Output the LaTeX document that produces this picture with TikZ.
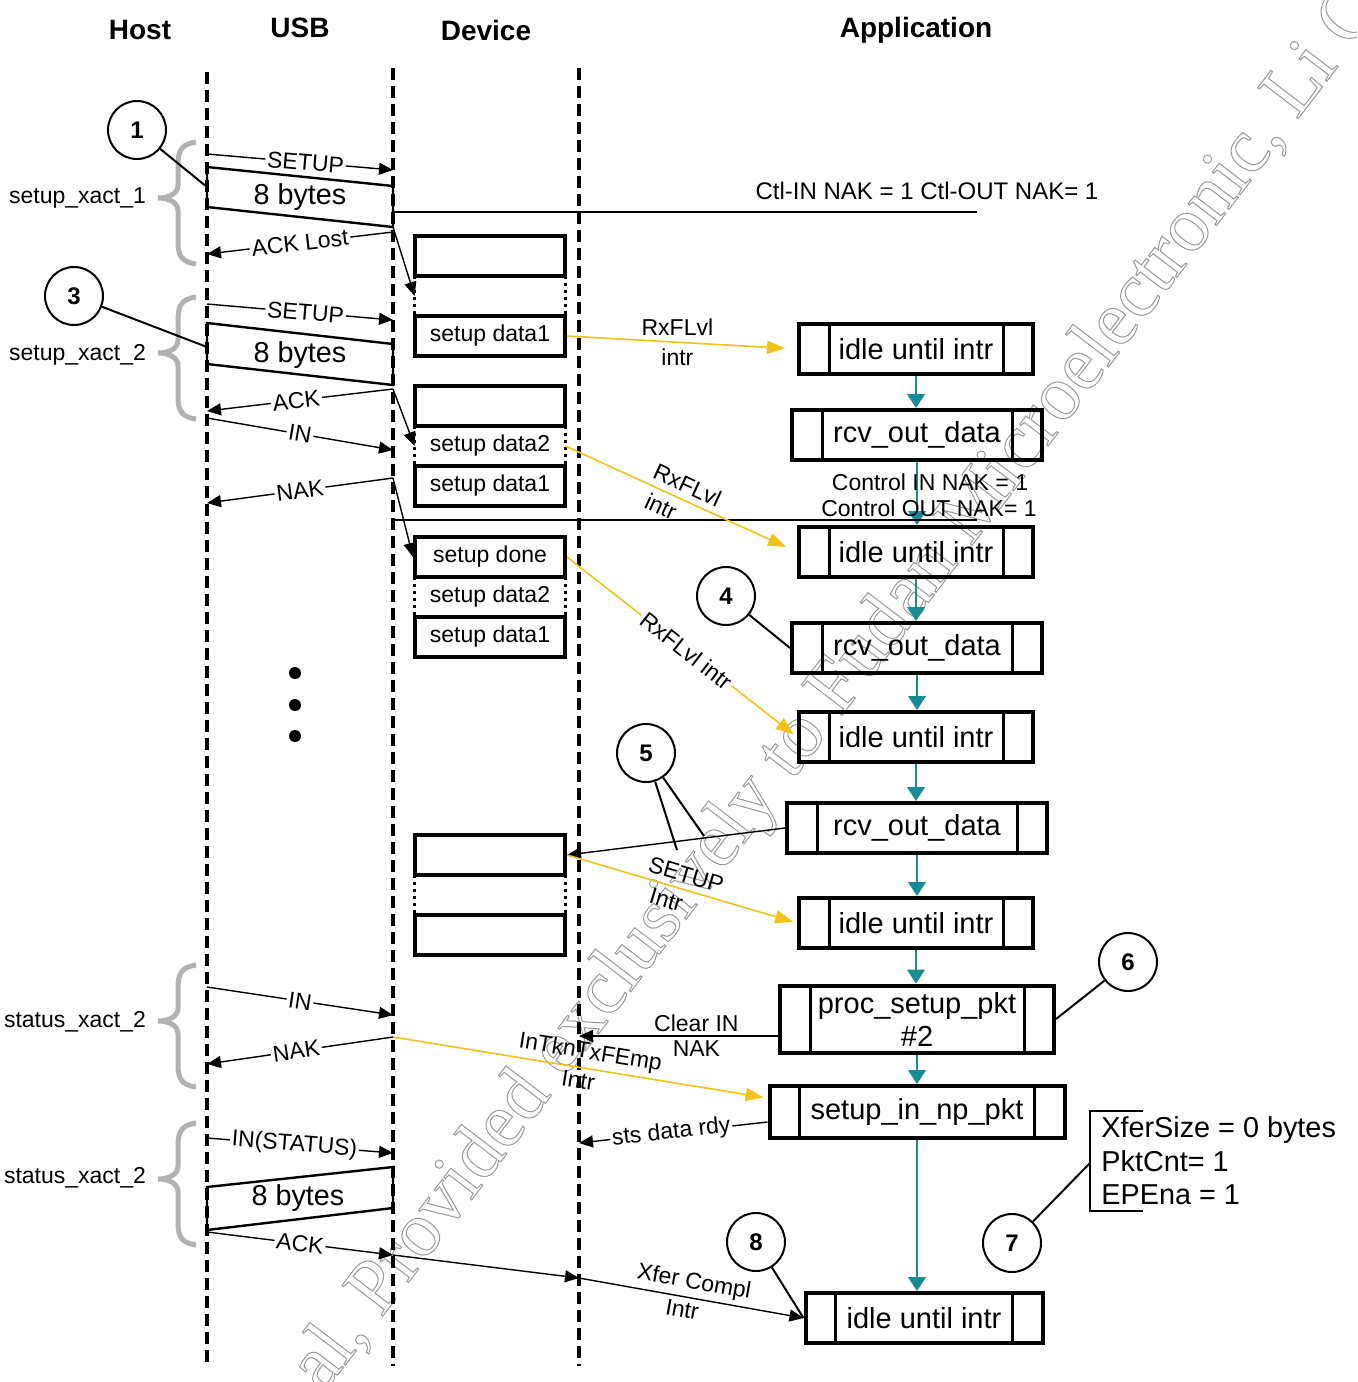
\documentclass[tikz,border=0pt]{standalone}
\usepackage{fontspec}
\setmainfont{Liberation Sans}
\newfontfamily\wmfont{Liberation Serif}
\usetikzlibrary{arrows.meta}
\definecolor{tealc}{RGB}{24,140,150}
\definecolor{goldc}{RGB}{242,194,24}
\definecolor{bracec}{RGB}{178,178,178}
\definecolor{wmc}{RGB}{150,150,150}
\newcommand\fsz[2]{\fontsize{#1}{#2}\selectfont}
\tikzset{
  lifeline/.style={line width=2pt, dash pattern=on 6pt off 3pt},
  msg/.style={line width=0.7pt, -{Triangle[length=7pt,width=6pt]}},
  thinline/.style={line width=0.7pt},
  lbl/.style={sloped, fill=white, inner sep=1pt, font=\fsz{11.5}{13}},
  slbl/.style={sloped, inner sep=1pt, font=\fsz{11.5}{13}},
  tlbl/.style={inner sep=1pt, font=\fsz{11.5}{13}},
  hdr/.style={font=\fsz{14}{16}\bfseries},
  fifobox/.style={draw, line width=2pt, minimum width=75pt, minimum height=20pt, inner sep=0pt, font=\fsz{11.5}{13}},
  fifoslot/.style={minimum width=75pt, minimum height=20pt, inner sep=0pt, font=\fsz{11.5}{13}},
  slotside/.style={line width=1.5pt, dotted},
  appbox/.style={draw, line width=2pt, minimum height=25pt, inner sep=0pt, align=center, font=\fsz{14.5}{16.5},
     path picture={\draw[line width=1.5pt]
        ([xshift=15pt]path picture bounding box.north west) -- ([xshift=15pt]path picture bounding box.south west)
        ([xshift=-15pt]path picture bounding box.north east) -- ([xshift=-15pt]path picture bounding box.south east);}},
  flow/.style={draw=tealc, line width=0.6pt, -{Triangle[length=7pt,width=9pt]}},
  yarr/.style={draw=goldc, line width=0.8pt, -{Triangle[length=9pt,width=6.5pt]}},
  callout/.style={circle, draw, line width=1pt, minimum size=29pt, inner sep=0pt, font=\fsz{12}{14}\bfseries},
  calline/.style={line width=1pt},
  pkt/.style={line width=1.2pt},
  pkttext/.style={font=\fsz{14.4}{16}},
  note/.style={font=\fsz{12}{14}},
  sidelbl/.style={font=\fsz{11.5}{13}, anchor=east},
  brc/.style={draw=bracec, line width=2.5pt},
  xbrace/.pic={\draw[brc] (38,0) .. controls (24,2) and (20,8) .. (20,23) -- (20,43) .. controls (20,51) and (12,56) .. (0,56) .. controls (12,56) and (20,61) .. (20,69) -- (20,100) .. controls (20,114) and (24,120) .. (38,122);},
  dotn/.style={circle, fill=black, minimum size=6pt, inner sep=0pt},
}
\begin{document}
\begin{tikzpicture}[x=0.5pt,y=-0.5pt]
\useasboundingbox (0,0) rectangle (1357,1382);
\fill[white] (0,0) rectangle (1357,1382);
% watermark (outlined text)
\begin{scope}
\clip (0,0) rectangle (1357,1382);
\node[font=\wmfont\fsz{39}{42}, text=wmc, rotate=52.6, inner sep=0pt] (wm) at (838,690) {\special{pdf:literal direct 1 Tr 0.5 w 0.6 G}al, Provided exclusively to Fudan Microelectronic, Li C\special{pdf:literal direct 0 Tr}};
\end{scope}
% headers
\node[hdr] (hhost) at (140,30) {Host};
\node[hdr] (husb) at (300,28) {USB};
\node[hdr] (hdev) at (486,30) {Device};
\node[hdr] (happ) at (916,30) {Application};
% lifelines
\coordinate (hT) at (207,72); \coordinate (hB) at (207,1362);
\coordinate (uT) at (393,68); \coordinate (uB) at (393,1366);
\coordinate (dT) at (579,68); \coordinate (dB) at (579,1366);
\draw[lifeline] (hT) -- (hB);
\draw[lifeline] (uT) -- (uB);
\draw[lifeline] (dT) -- (dB);
% braces and side labels
\pic at (158,142) {xbrace};
\pic at (158,297) {xbrace};
\pic at (158,965) {xbrace};
\pic at (158,1123) {xbrace};
\node[sidelbl] (lx1) at (153,198) {setup\_xact\_1};
\node[sidelbl] (lx2) at (153,355) {setup\_xact\_2};
\node[sidelbl] (lx3) at (153,1022) {status\_xact\_2};
\node[sidelbl] (lx4) at (153,1178) {status\_xact\_2};
% FIFOs
\node[fifobox] (a1) at (490,256) {};
\node[fifoslot] (a2) at (490,296) {};
\node[fifobox] (a3) at (490,336) {setup data1};
\node[fifobox] (b1) at (490,406) {};
\node[fifoslot] (b2) at (490,446) {setup data2};
\node[fifobox] (b3) at (490,486) {setup data1};
\node[fifobox] (c1) at (490,557) {setup done};
\node[fifoslot] (c2) at (490,597) {setup data2};
\node[fifobox] (c3) at (490,637) {setup data1};
\node[fifobox] (d1) at (490,855) {};
\node[fifoslot] (d2) at (490,895) {};
\node[fifobox] (d3) at (490,935) {};
\foreach \s in {a2,b2,c2,d2}{
  \draw[slotside] (\s.north west) -- (\s.south west) (\s.north east) -- (\s.south east);
}
% application boxes
\node[appbox, minimum width=117pt] (i1) at (916,349) {idle until intr};
\node[appbox, minimum width=125pt] (r1) at (917,435) {rcv\_out\_data};
\node[appbox, minimum width=117pt] (i2) at (916,552) {idle until intr};
\node[appbox, minimum width=125pt] (r2) at (917,648) {rcv\_out\_data};
\node[appbox, minimum width=117pt] (i3) at (916,737) {idle until intr};
\node[appbox, minimum width=130pt] (r3) at (917,828) {rcv\_out\_data};
\node[appbox, minimum width=117pt] (i4) at (916,923) {idle until intr};
\node[appbox, minimum width=137pt, minimum height=33.5pt] (pr) at (917,1019) {proc\_setup\_pkt\\\#2};
\node[appbox, minimum width=147.5pt, minimum height=26pt] (si) at (917,1112) {setup\_in\_np\_pkt};
\node[appbox, minimum width=118.5pt] (i5) at (924,1318) {idle until intr};
% teal flow
\draw[flow] (i1.south) -- (i1.south |- r1.north);
\draw[flow] (r1.south) -- (r1.south |- i2.north);
\draw[flow] (i2.south) -- (i2.south |- r2.north);
\draw[flow] (r2.south) -- (r2.south |- i3.north);
\draw[flow] (i3.south) -- (i3.south |- r3.north);
\draw[flow] (r3.south) -- (r3.south |- i4.north);
\draw[flow] (i4.south) -- (i4.south |- pr.north);
\draw[flow] (pr.south) -- (pr.south |- si.north);
\draw[flow] (si.south) -- (si.south |- i5.north);
% horizontal marker lines and notes
\coordinate (hl1a) at (393,212); \coordinate (hl1b) at (977,212);
\coordinate (hl2a) at (393,520); \coordinate (hl2b) at (977,520);
\draw[thinline] (hl1a) -- (hl1b);
\draw[thinline] (hl2a) -- (hl2b);
\node[note] (ctl) at (927,191) {Ctl-IN NAK = 1 Ctl-OUT NAK= 1};
\node[tlbl] (cn1) at (930,482) {Control IN NAK = 1};
\node[tlbl] (cn2) at (929,508) {Control OUT NAK= 1};
% packets
\draw[pkt] (207,167) -- (393,186) -- (393,227) -- (207,207) -- cycle;
\node[pkttext] (p1) at (300,197) {8 bytes};
\draw[pkt] (207,323) -- (393,344) -- (393,385) -- (207,364) -- cycle;
\node[pkttext] (p2) at (300,355) {8 bytes};
\draw[pkt] (207,1187) -- (393,1167) -- (393,1208) -- (207,1230) -- cycle;
\node[pkttext] (p3) at (298,1198) {8 bytes};
% host/usb messages
\coordinate (s1a) at (207,154); \coordinate (s1b) at (393,170);
\draw[msg] (s1a) -- node[lbl,pos=0.53]{SETUP} (s1b);
\coordinate (p1br) at (393,227);
\coordinate (al1) at (393,232); \coordinate (al2) at (207,254);
\draw[msg] (al1) -- node[lbl,pos=0.5]{ACK Lost} (al2);
\coordinate (s2a) at (207,304); \coordinate (s2b) at (393,320);
\draw[msg] (s2a) -- node[lbl,pos=0.53]{SETUP} (s2b);
\coordinate (ak1) at (393,389); \coordinate (ak2) at (207,411);
\draw[msg] (ak1) -- node[lbl,pos=0.52]{ACK} (ak2);
\coordinate (in1) at (207,418); \coordinate (in2) at (393,450);
\draw[msg] (in1) -- node[lbl,pos=0.5]{IN} (in2);
\coordinate (nk1) at (393,478); \coordinate (nk2) at (207,503);
\draw[msg] (nk1) -- node[lbl,pos=0.5]{NAK} (nk2);
% to FIFOs
\draw[msg] (p1br) -- (a2.west);
\draw[msg] (ak1) -- (b2.west);
\draw[msg] (nk1) -- (c1.west);
% status transactions
\coordinate (in3) at (207,987); \coordinate (in4) at (393,1015);
\draw[msg] (in3) -- node[lbl,pos=0.5]{IN} (in4);
\coordinate (nk3) at (393,1037); \coordinate (nk4) at (207,1064);
\draw[msg] (nk3) -- node[lbl,pos=0.52]{NAK} (nk4);
\coordinate (is1) at (207,1138); \coordinate (is2) at (393,1153);
\draw[msg] (is1) -- node[lbl,pos=0.47]{IN(STATUS)} (is2);
\coordinate (ak3) at (207,1232); \coordinate (ak4) at (393,1255);
\draw[msg] (ak3) -- node[lbl,pos=0.5]{ACK} (ak4);
\coordinate (xc) at (579,1278);
\draw[msg] (ak4) -- (xc);
\draw[msg] (xc) -- node[slbl,above=1pt,pos=0.5]{Xfer Compl} node[slbl,below=1pt,pos=0.47]{Intr} (i5.west);
% device/application arrows
\draw[msg] (r3.west) -- (d1.east);
\coordinate (cl) at (579,1036);
\draw[msg] (pr.west |- cl) -- node[tlbl,above=1pt,pos=0.41]{Clear IN} node[tlbl,below=1pt,pos=0.41]{NAK} (cl);
\coordinate (sd) at (579,1143);
\draw[msg] ([yshift=-5pt]si.west) -- node[lbl,pos=0.51]{sts data rdy} (sd);
% yellow interrupt arrows
\draw[yarr, shorten >=6pt] (a3.east) -- node[tlbl,above=2pt,pos=0.48]{RxFLvl} node[tlbl,below=2pt,pos=0.48]{intr} (i1.west);
\draw[yarr, shorten >=6pt] (b2.east) -- node[slbl,above=2pt,pos=0.5]{RxFLvl} node[slbl,below=2pt,pos=0.44]{intr} (i2.west);
\draw[yarr, shorten >=2pt] (c1.east) -- node[lbl,pos=0.52]{RxFLvl intr} (i3.west);
\draw[yarr, shorten >=2pt] (d1.east) -- node[slbl,above=2pt,pos=0.5]{SETUP} node[slbl,below=2pt,pos=0.45]{Intr} (i4.west);
\draw[yarr, shorten >=2pt] (nk3) -- node[slbl,above=1pt,pos=0.52]{InTknTxFEmp} node[slbl,below=1pt,pos=0.5]{Intr} ([yshift=7pt]si.west);
% XferSize note
\node[font=\fsz{14.4}{16.75}, align=left, anchor=west, inner sep=0pt] (xfer) at (1101,1161) {XferSize = 0 bytes\\PktCnt= 1\\EPEna = 1};
\coordinate (xb) at (1090,1163);
\draw[line width=0.8pt] (1143,1111) -- (1090,1111) -- (1090,1211) -- (1143,1211);
% dots
\node[dotn] (dt1) at (295,673) {};
\node[dotn] (dt2) at (295,705) {};
\node[dotn] (dt3) at (295,736) {};
% callouts
\node[callout] (k1) at (137,130) {1};
\node[callout] (k3) at (74,296) {3};
\node[callout] (k4) at (726,596) {4};
\node[callout] (k5) at (646,753) {5};
\node[callout] (k6) at (1128,962) {6};
\node[callout] (k7) at (1012,1243) {7};
\node[callout] (k8) at (756,1242) {8};
\coordinate (k1t) at (207,187);
\coordinate (k3t) at (207,347);
\coordinate (k5ta) at (677,850);
\coordinate (k5tb) at (704,836);
\draw[calline] (k1) -- (k1t);
\draw[calline] (k3) -- (k3t);
\draw[calline] (k4) -- (r2.west);
\draw[calline] (k5) -- (k5ta);
\draw[calline] (k5) -- (k5tb);
\draw[calline] (k6) -- (pr.east);
\draw[calline] (k7) -- (xb);
\draw[calline] (k8) -- (i5.west);
\end{tikzpicture}
\end{document}
